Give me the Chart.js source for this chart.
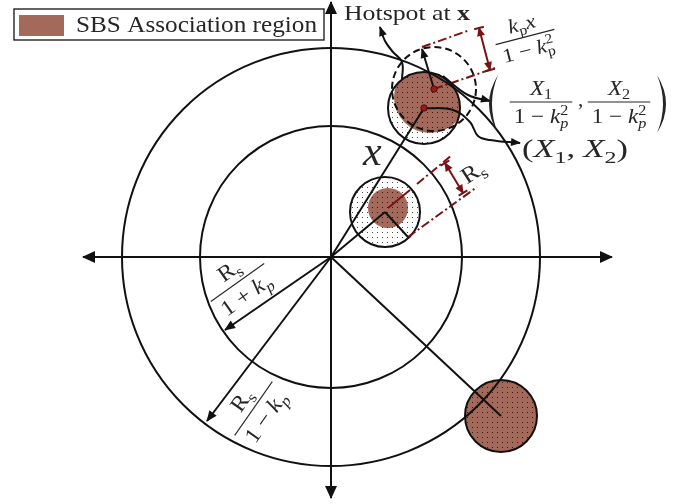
<!DOCTYPE html>
<html>
<head>
<meta charset="utf-8">
<title>Hotspot and SBS association region</title>
<script src="https://cdn.jsdelivr.net/npm/chart.js@4.4.0/dist/chart.umd.min.js"></script>
<style>
  html, body { margin: 0; padding: 0; background: #fff; }
  canvas { display: block; }
</style>
</head>
<body>
<canvas id="diagram" width="685" height="504"></canvas>
<script>
// everything is in one set of units, origin at the serving BS, y pointing up
var xRange = [-331, 354];
var yRange = [-247, 257];

// rings: Rs/(1+kp) and Rs/(1-kp)
var ringRadii = [131, 209];

// discs as [cx, cy, r]
var hotspotNear = [54, 45, 35];
var hotspotMain = [93, 149, 36];
var hotspotFar = [170, -159, 36];
var sbsNear = [57, 49, 20];
var sbsMain = [99, 160, 36];
var shifted = [103, 168, 42];

// segments and paths as [x, y] points
var axisH = [[-248, 0], [281, 0]];
var axisV = [[0, -241], [0, 255]];
var rayFar = [[0, 0], [170, -159]];
var rayInner = [[0, 0], [-106, -73]];
var rayOuter = [[0, 0], [-124, -164]];
var rayX = [[0, 0], [93, 149]];
var rayNear = [[0, 0], [54, 45]];
var radiusNear = [[54, 45], [77, 20]];
var radiusShift = [[103, 168], [91, 208]];
var hotspotLead = [[71, 177], [71, 195], [62, 205], [54, 216], [49, 230]];
var centreLead = [[93, 149], [122, 147], [139, 135], [147, 121], [159, 117], [189, 114]];
var shiftLead = [[112, 181], [137, 162], [159, 156]];
var dimTopA = [[91, 210], [139, 227]];
var dimTopB = [[103, 168], [164, 189]];
var dimTopArrow = [[148, 229], [159, 187]];
var dimMidLine = [[57, 49], [79, 67]];
var dimMidA = [[86, 73], [121, 102]];
var dimMidB = [[77, 20], [146, 70]];
var dimMidArrow = [[114, 94], [132, 64]];
var redDots = [[93, 149], [103, 168]];

var INK = '#111111';
var RED = '#7a1214';
var BROWN = '#a3695b';
var TEXT = '#262626';
var SERIF = '"Liberation Serif", "DejaVu Serif", serif';

function seg(pts, opt) {
  return Object.assign({
    data: pts.map(function (p) { return { x: p[0], y: p[1] }; }),
    showLine: true,
    borderColor: INK,
    borderWidth: 2,
    pointRadius: 0,
    fill: false,
    tension: 0,
    clip: false
  }, opt || {});
}

var dashDot = { borderColor: RED, borderDash: [9, 3, 2, 3] };
var redArrow = { borderColor: RED, arrowStart: true, arrowEnd: true, cap: true, head: [8, 4] };

var datasets = [
  seg(axisH, { arrowStart: true, arrowEnd: true, head: [12, 6] }),
  seg(axisV, { arrowStart: true, arrowEnd: true, head: [12, 6] }),
  seg(rayFar),
  seg(rayInner, { arrowEnd: true, head: [10, 4.5] }),
  seg(rayOuter, { arrowEnd: true, head: [10, 4.5] }),
  seg(rayX),
  seg(rayNear),
  seg(radiusNear),
  seg(radiusShift, { arrowEnd: true, head: [9, 4] }),
  seg(hotspotLead, { tension: 0.4, arrowEnd: true, head: [9, 4] }),
  seg(centreLead, { tension: 0.4, arrowEnd: true, head: [9, 4] }),
  seg(shiftLead, { tension: 0.4, arrowEnd: true, head: [9, 4] }),
  seg(dimTopA, dashDot),
  seg(dimTopB, dashDot),
  seg(dimTopArrow, redArrow),
  seg(dimMidLine, { borderColor: RED }),
  seg(dimMidA, dashDot),
  seg(dimMidB, dashDot),
  seg(dimMidArrow, redArrow)
];

function px(chart, p) {
  return { x: chart.scales.x.getPixelForValue(p[0]), y: chart.scales.y.getPixelForValue(p[1]) };
}

function discPath(chart, d) {
  var c = px(chart, d);
  var r = chart.scales.x.getPixelForValue(d[2]) - chart.scales.x.getPixelForValue(0);
  chart.ctx.beginPath();
  chart.ctx.arc(c.x, c.y, r, 0, Math.PI * 2);
}

function makePattern(ctx, bg, dot) {
  var c = document.createElement('canvas');
  c.width = 5;
  c.height = 5;
  var g = c.getContext('2d');
  if (bg) {
    g.fillStyle = bg;
    g.fillRect(0, 0, 5, 5);
  }
  g.fillStyle = dot;
  g.fillRect(2, 2, 1, 1);
  return ctx.createPattern(c, 'repeat');
}

// small rich-text helpers for the math labels
function runFont(kind, size) {
  var s = /[_^]/.test(kind) ? size * 0.7 : size;
  var it = kind.indexOf('i') >= 0 ? 'italic ' : '';
  var bd = kind.indexOf('b') >= 0 ? 'bold ' : '';
  return it + bd + s.toFixed(1) + 'px ' + SERIF;
}

function layoutRuns(ctx, runs, size) {
  var x = 0, prevStart = 0, prevEnd = 0, items = [];
  runs.forEach(function (r) {
    var kind = r[1];
    ctx.font = runFont(kind, size);
    var w = ctx.measureText(r[0]).width;
    var stack = kind.indexOf('~') >= 0;
    var start = stack ? prevStart : x;
    var dy = kind.indexOf('_') >= 0 ? size * 0.22 : (kind.indexOf('^') >= 0 ? -size * 0.4 : 0);
    items.push({ t: r[0], font: ctx.font, x: start, dy: dy });
    var end = start + w;
    if (stack) end = Math.max(end, prevEnd);
    prevStart = start;
    prevEnd = end;
    x = end;
  });
  return { items: items, width: x };
}

function paintRuns(ctx, lay, x, y) {
  lay.items.forEach(function (it) {
    ctx.font = it.font;
    ctx.fillText(it.t, x + it.x, y + it.dy);
  });
}

function drawText(ctx, runs, x, y, size, opt) {
  opt = opt || {};
  var lay = layoutRuns(ctx, runs, size);
  var sx = opt.fit ? opt.fit / lay.width : (opt.stretch || 1);
  ctx.save();
  ctx.translate(x, y);
  ctx.rotate((opt.angle || 0) * Math.PI / 180);
  ctx.scale(sx, 1);
  ctx.fillStyle = TEXT;
  ctx.textBaseline = 'alphabetic';
  paintRuns(ctx, lay, opt.center ? -lay.width / 2 : 0, 0);
  ctx.restore();
}

function drawFrac(ctx, num, den, x, y, size, opt) {
  opt = opt || {};
  var ln = layoutRuns(ctx, num, size);
  var ld = layoutRuns(ctx, den, size);
  var bw = Math.max(ln.width, ld.width) + size * 0.35;
  ctx.save();
  ctx.translate(x, y);
  ctx.rotate((opt.angle || 0) * Math.PI / 180);
  ctx.scale(opt.stretch || 1, 1);
  ctx.fillStyle = TEXT;
  ctx.strokeStyle = TEXT;
  paintRuns(ctx, ln, -ln.width / 2, -size * 0.35);
  paintRuns(ctx, ld, -ld.width / 2, size * 1.0);
  ctx.lineWidth = 1.1;
  ctx.beginPath();
  ctx.moveTo(-bw / 2, 0);
  ctx.lineTo(bw / 2, 0);
  ctx.stroke();
  ctx.restore();
}

function paren(ctx, x, top, bottom, dir) {
  // dir -1: opening, 1: closing
  var mid = (top + bottom) / 2;
  ctx.save();
  ctx.fillStyle = TEXT;
  ctx.beginPath();
  ctx.moveTo(x, top);
  ctx.quadraticCurveTo(x + dir * 18, mid, x, bottom);
  ctx.quadraticCurveTo(x + dir * 12, mid, x, top);
  ctx.fill();
  ctx.restore();
}

function head(ctx, from, to, len, half, color) {
  var a = Math.atan2(to.y - from.y, to.x - from.x);
  ctx.save();
  ctx.translate(to.x, to.y);
  ctx.rotate(a);
  ctx.fillStyle = color;
  ctx.beginPath();
  ctx.moveTo(1, 0);
  ctx.lineTo(-len, -half);
  ctx.lineTo(-len, half);
  ctx.closePath();
  ctx.fill();
  ctx.restore();
}

function cap(ctx, from, to, color) {
  var a = Math.atan2(to.y - from.y, to.x - from.x);
  ctx.save();
  ctx.translate(to.x, to.y);
  ctx.rotate(a);
  ctx.strokeStyle = color;
  ctx.lineWidth = 2;
  ctx.beginPath();
  ctx.moveTo(0, -5);
  ctx.lineTo(0, 5);
  ctx.stroke();
  ctx.restore();
}

var diagramPlugin = {
  id: 'diagram',
  beforeDatasetsDraw: function (chart) {
    var ctx = chart.ctx;
    var dots = makePattern(ctx, '#ffffff', '#444444');
    var brownDots = makePattern(ctx, BROWN, '#3a1812');
    ctx.save();
    [hotspotNear, hotspotMain].forEach(function (d) {
      discPath(chart, d);
      ctx.fillStyle = dots;
      ctx.fill();
    });
    discPath(chart, sbsNear);
    ctx.fillStyle = brownDots;
    ctx.fill();
    ctx.save();
    discPath(chart, hotspotMain);
    ctx.clip();
    discPath(chart, sbsMain);
    ctx.fillStyle = brownDots;
    ctx.fill();
    ctx.restore();
    discPath(chart, hotspotFar);
    ctx.fillStyle = brownDots;
    ctx.fill();

    ctx.strokeStyle = INK;
    ctx.lineWidth = 2;
    ringRadii.forEach(function (r) {
      discPath(chart, [0, 0, r]);
      ctx.stroke();
    });
    [hotspotNear, hotspotMain, hotspotFar].forEach(function (d) {
      discPath(chart, d);
      ctx.stroke();
    });
    ctx.setLineDash([7, 4]);
    discPath(chart, shifted);
    ctx.stroke();
    ctx.restore();
  },
  afterDatasetsDraw: function (chart) {
    var ctx = chart.ctx;
    chart.data.datasets.forEach(function (ds, i) {
      var pts = chart.getDatasetMeta(i).data;
      var n = pts.length;
      var h = ds.head || [9, 4];
      var first = { x: pts[0].x, y: pts[0].y };
      var second = { x: pts[1].x, y: pts[1].y };
      var last = { x: pts[n - 1].x, y: pts[n - 1].y };
      var prev = { x: pts[n - 2].x, y: pts[n - 2].y };
      if (ds.arrowEnd) {
        head(ctx, prev, last, h[0], h[1], ds.borderColor);
        if (ds.cap) cap(ctx, prev, last, ds.borderColor);
      }
      if (ds.arrowStart) {
        head(ctx, second, first, h[0], h[1], ds.borderColor);
        if (ds.cap) cap(ctx, second, first, ds.borderColor);
      }
    });
    redDots.forEach(function (d) {
      var p = px(chart, d);
      ctx.beginPath();
      ctx.arc(p.x, p.y, 3.2, 0, Math.PI * 2);
      ctx.fillStyle = '#9a1a1a';
      ctx.fill();
      ctx.lineWidth = 0.8;
      ctx.strokeStyle = '#3a0606';
      ctx.stroke();
    });

    var kp2 = [['1 \u2212 ', 'r'], ['k', 'i'], ['p', '_i'], ['2', '^~']];
    var p;
    p = px(chart, [13, 237]);
    drawText(ctx, [['Hotspot at ', 'r'], ['x', 'b']], p.x, p.y, 21, { fit: 126 });

    p = px(chart, [194, 220]);
    drawFrac(ctx, [['k', 'i'], ['p', '_'], ['x', 'i']],
      [['1 \u2212 ', 'r'], ['k', 'i'], ['p', '_'], ['2', '^~']], p.x, p.y, 20, { angle: -14.5, stretch: 1.12 });

    var l = px(chart, [167, 182]), r = px(chart, [326, 182]);
    paren(ctx, l.x, l.y, l.y + 58, -1);
    paren(ctx, r.x, r.y, r.y + 58, 1);
    p = px(chart, [210, 155]);
    drawFrac(ctx, [['X', 'i'], ['1', '_']], kp2, p.x, p.y, 21, { stretch: 1.1 });
    p = px(chart, [288, 155]);
    drawFrac(ctx, [['X', 'i'], ['2', '_']], kp2, p.x, p.y, 21, { stretch: 1.1 });
    p = px(chart, [247, 151]);
    drawText(ctx, [[',', 'r']], p.x, p.y, 21);

    p = px(chart, [191, 100]);
    drawText(ctx, [['(', 'r'], ['X', 'i'], ['1', '_'], [', ', 'r'], ['X', 'i'], ['2', '_'], [')', 'r']],
      p.x, p.y, 25, { fit: 106 });

    p = px(chart, [32, 92]);
    drawText(ctx, [['x', 'i']], p.x, p.y, 42);

    p = px(chart, [146, 86]);
    drawText(ctx, [['R', 'r'], ['s', '_']], p.x, p.y + 7, 23, { angle: -33, center: true, stretch: 1.1 });

    p = px(chart, [-93.5, -25.5]);
    drawFrac(ctx, [['R', 'r'], ['s', '_']], [['1 + ', 'r'], ['k', 'i'], ['p', '_i']],
      p.x, p.y, 22, { angle: -35.5, stretch: 1.1 });
    p = px(chart, [-77.5, -151.5]);
    drawFrac(ctx, [['R', 'r'], ['s', '_']], [['1 \u2212 ', 'r'], ['k', 'i'], ['p', '_i']],
      p.x, p.y, 22, { angle: -55, stretch: 1.1 });
  },
  afterDraw: function (chart) {
    var ctx = chart.ctx;
    ctx.save();
    ctx.fillStyle = '#ffffff';
    ctx.fillRect(14, 9, 310, 31);
    ctx.strokeStyle = INK;
    ctx.lineWidth = 1.3;
    ctx.strokeRect(14, 9, 310, 31);
    ctx.fillStyle = BROWN;
    ctx.fillRect(19, 15, 45, 21);
    ctx.restore();
    drawText(ctx, [['SBS Association region', 'r']], 76, 32, 23, { fit: 241 });
  }
};

var chart = new Chart(document.getElementById('diagram'), {
  type: 'scatter',
  data: { datasets: datasets },
  options: {
    responsive: false,
    animation: false,
    devicePixelRatio: 1,
    events: [],
    layout: { padding: 0 },
    scales: {
      x: { type: 'linear', min: xRange[0], max: xRange[1], display: false },
      y: { type: 'linear', min: yRange[0], max: yRange[1], display: false }
    },
    plugins: {
      legend: { display: false },
      tooltip: { enabled: false }
    }
  },
  plugins: [diagramPlugin]
});
</script>
</body>
</html>
